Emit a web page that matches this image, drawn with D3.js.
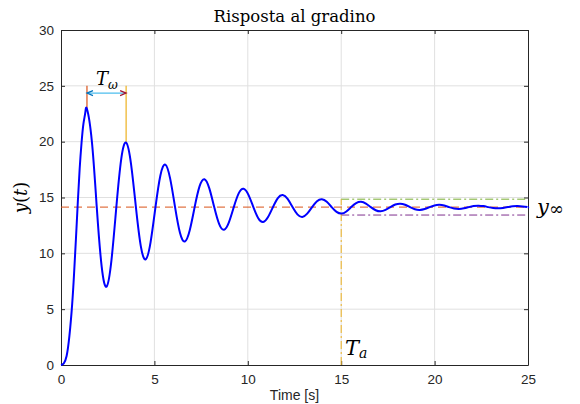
<!DOCTYPE html>
<html><head><meta charset="utf-8">
<script src="https://cdn.jsdelivr.net/npm/d3@7"></script>
<style>
html,body{margin:0;padding:0;background:#fff;}
svg{display:block;}
.tick text{font-family:"Liberation Sans",Arial,sans-serif;font-size:13.5px;fill:#262626;}
</style></head>
<body>
<script>
// ---- data ----
const times = [0,0.15,0.3,0.45,0.6,0.7,0.8,0.9,1.0,1.1,1.2,1.3,
1.39,1.652,1.914,2.176,2.438,2.70,2.962,3.224,3.486,3.748,4.01,4.272,4.534,4.796,5.058,5.32,5.582,5.844,
6.106,6.368,6.63,6.892,7.154,7.416,7.678,7.94,8.202,8.464,8.726,8.988,9.25,9.512,9.774,10.036,10.298,10.56,
10.822,11.084,11.346,11.608,11.87,12.132,12.394,12.656,12.918,13.18,13.442,13.704,13.966,14.228,14.49,14.752,
15.014,15.276,15.538,15.80,16.062,16.324,16.586,16.848,17.11,17.372,17.634,17.896,18.158,18.42,18.682,18.944,
19.206,19.468,19.73,19.992,20.254,20.516,20.778,21.04,21.302,21.564,21.826,22.088,22.35,22.612,22.874,23.136,
23.398,23.66,23.922,24.184,24.446,24.708,24.97,25];
const response = [0,0.15,0.8,2.6,5.5,8.2,11.3,14.6,17.6,19.9,21.6,22.6,
22.92,20.03,14.14,8.83,7.02,9.36,14.14,18.44,19.92,18.02,14.14,10.65,9.46,11.00,14.14,16.97,17.94,16.69,
14.14,11.84,11.06,12.07,14.14,16.00,16.64,15.82,14.14,12.63,12.11,12.78,14.14,15.37,15.78,15.24,14.14,13.15,
12.81,13.25,14.14,14.95,15.22,14.87,14.14,13.49,13.26,13.55,14.14,14.67,14.85,14.62,14.14,13.71,
13.56,13.75,14.14,14.49,14.61,14.45,14.14,13.86,13.76,13.89,14.14,14.37,14.45,14.35,14.14,13.95,
13.89,13.97,14.14,14.29,14.34,14.28,14.14,14.02,13.98,14.03,14.14,14.24,14.27,14.23,14.14,14.06,
14.03,14.07,14.14,14.21,14.23,14.20,14.14,14.13];
const yInf = 14.14;
const bandHigh = 14.85;
const bandLow = 13.43;
const settleTime = 15;
const peakTimes = [1.39, 3.486];
const peakValues = [22.92, 19.92];
const markerTop = 25;
const arrowLevel = 24.35;
const xTicks = [0,5,10,15,20,25];
const yTicks = [0,5,10,15,20,25,30];
const titleText = "Risposta al gradino";
const xLabel = "Time [s]";

// ---- drawing ----
const W = 580, H = 404;
const L = 61, R = 528, T = 30, B = 365;
const svg = d3.select("body").append("svg").attr("width", W).attr("height", H);
const x = d3.scaleLinear().domain([0,25]).range([L,R]);
const y = d3.scaleLinear().domain([0,30]).range([B,T]);

// grid
const grid = svg.append("g").attr("stroke","#e0e0e0").attr("stroke-width",1);
grid.selectAll("line.v").data(xTicks.slice(1,-1)).join("line")
  .attr("x1",d=>x(d)).attr("x2",d=>x(d)).attr("y1",T).attr("y2",B);
grid.selectAll("line.h").data(yTicks.slice(1,-1)).join("line")
  .attr("x1",L).attr("x2",R).attr("y1",d=>y(d)).attr("y2",d=>y(d));

// axes
const ax = (g)=>g.call(s=>s.select(".domain").attr("stroke","#262626"))
  .call(s=>s.selectAll(".tick line").attr("stroke","#262626"));
svg.append("g").attr("transform",`translate(0,${B})`)
  .call(d3.axisBottom(x).tickValues(xTicks).tickSizeInner(-4).tickSizeOuter(0).tickPadding(9)).call(ax);
svg.append("g").attr("transform",`translate(${L},0)`)
  .call(d3.axisLeft(y).tickValues(yTicks).tickSizeInner(-4).tickSizeOuter(0).tickPadding(7)).call(ax);
svg.append("g").attr("transform",`translate(0,${T})`)
  .call(d3.axisTop(x).tickValues(xTicks).tickSizeInner(-4).tickSizeOuter(0).tickFormat("")).call(ax);
svg.append("g").attr("transform",`translate(${R},0)`)
  .call(d3.axisRight(y).tickValues(yTicks).tickSizeInner(-4).tickSizeOuter(0).tickFormat("")).call(ax);

// reference lines
svg.append("line").attr("x1",x(0)).attr("x2",x(25)).attr("y1",y(yInf)).attr("y2",y(yInf))
  .attr("stroke","#D95319").attr("stroke-width",1).attr("stroke-dasharray","8,5");
svg.append("line").attr("x1",x(settleTime)).attr("x2",x(25)).attr("y1",y(bandHigh)).attr("y2",y(bandHigh))
  .attr("stroke","#77AC30").attr("stroke-width",1).attr("stroke-dasharray","8,3,2,3");
svg.append("line").attr("x1",x(settleTime)).attr("x2",x(25)).attr("y1",y(bandLow)).attr("y2",y(bandLow))
  .attr("stroke","#7E2F8E").attr("stroke-width",1).attr("stroke-dasharray","8,3,2,3");
svg.append("line").attr("x1",x(settleTime)).attr("x2",x(settleTime)).attr("y1",y(0)).attr("y2",y(bandHigh))
  .attr("stroke","#EDB120").attr("stroke-width",1).attr("stroke-dasharray","8,3,2,3");

// period markers
const markColors = ["#D95319","#EDB120"];
svg.selectAll("line.pk").data(peakTimes).join("line")
  .attr("x1",d=>x(d)).attr("x2",d=>x(d))
  .attr("y1",(d,i)=>y(peakValues[i])).attr("y2",y(markerTop))
  .attr("stroke",(d,i)=>markColors[i]).attr("stroke-width",1.2);
const ay = y(arrowLevel), ax0 = x(peakTimes[0]), ax1 = x(peakTimes[1]);
svg.append("line").attr("x1",ax0).attr("x2",ax1).attr("y1",ay).attr("y2",ay)
  .attr("stroke","#4DBEEE").attr("stroke-width",1.2);
svg.append("path").attr("d",`M${ax0+6},${ay-2.5} L${ax0},${ay} L${ax0+6},${ay+2.5}`)
  .attr("fill","none").attr("stroke","#0072BD").attr("stroke-width",1.2);
svg.append("path").attr("d",`M${ax1-6},${ay-2.5} L${ax1},${ay} L${ax1-6},${ay+2.5}`)
  .attr("fill","none").attr("stroke","#A2142F").attr("stroke-width",1.2);

// response curve
const pts = times.map((t,i)=>[t,response[i]]);
svg.append("path").datum(pts)
  .attr("d", d3.line().x(d=>x(d[0])).y(d=>y(d[1])).curve(d3.curveNatural))
  .attr("fill","none").attr("stroke","#0000FF").attr("stroke-width",2);

// texts
const serif = "'DejaVu Serif','Liberation Serif',serif";
svg.append("text").attr("x",(L+R)/2).attr("y",22).attr("text-anchor","middle")
  .attr("font-family",serif).attr("font-size",16.5).attr("fill","#000").text(titleText);
svg.append("text").attr("x",(L+R)/2).attr("y",400).attr("text-anchor","middle")
  .attr("font-family","'Liberation Sans',Arial,sans-serif").attr("font-size",14).attr("fill","#262626").text(xLabel);

const ylab = svg.append("text").attr("transform",`translate(27,${(T+B)/2}) rotate(-90)`)
  .attr("text-anchor","middle").attr("font-family",serif).attr("font-size",18).attr("fill","#000");
ylab.append("tspan").attr("font-style","italic").text("y");
ylab.append("tspan").text("(");
ylab.append("tspan").attr("font-style","italic").text("t");
ylab.append("tspan").text(")");

const tw = svg.append("text").attr("x",96).attr("y",85).attr("font-family",serif).attr("fill","#000");
tw.append("tspan").attr("font-style","italic").attr("font-size",18).text("T");
tw.append("tspan").attr("font-style","italic").attr("font-size",12).attr("dy",4).text("ω");

const ta = svg.append("text").attr("x",345).attr("y",355).attr("font-family",serif).attr("fill","#000");
ta.append("tspan").attr("font-style","italic").attr("font-size",21).text("T");
ta.append("tspan").attr("font-style","italic").attr("font-size",14).attr("dy",3).text("a");

const yi = svg.append("text").attr("x",537).attr("y",214).attr("font-family",serif).attr("fill","#000");
yi.append("tspan").attr("font-style","italic").attr("font-size",21).text("y");
yi.append("tspan").attr("font-size",18).attr("dy",1).text("∞");
</script>
</body></html>
